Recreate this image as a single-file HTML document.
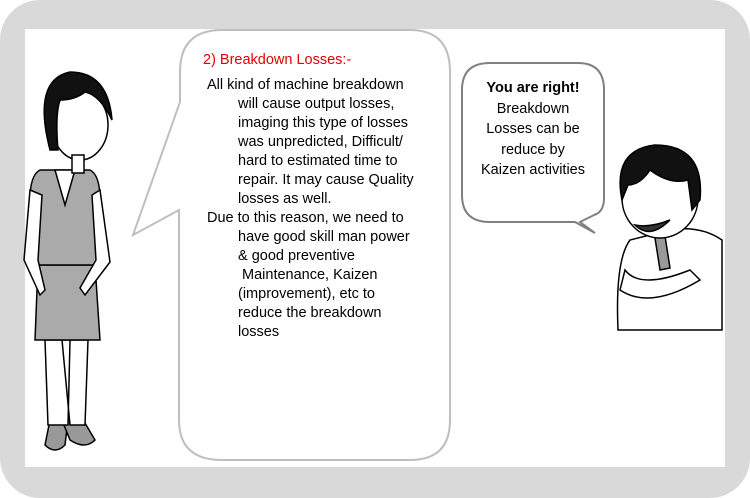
<!DOCTYPE html>
<html><head><style>
body{margin:0;width:750px;height:498px;overflow:hidden;background:#fff;font-family:"Liberation Sans",sans-serif}
.t{position:absolute;font-size:14.5px;line-height:19.1px;color:#000;white-space:nowrap}
</style></head><body>
<svg width="750" height="498" style="position:absolute;left:0;top:0">
<rect x="0" y="0" width="750" height="498" rx="40" fill="#d9d9d9"/>
<rect x="25" y="29" width="700" height="438" fill="#fff"/>
<path d="M180,102 L180,72 Q180,30 222,30 L410,30 Q450,30 450,72 L450,420 Q450,460 410,460 L222,460 Q179,460 179,420 L179,210 L133,235 Z" fill="#fff" stroke="#bfbfbf" stroke-width="2"/>
<path d="M462,90 Q462,63 490,63 L578,63 Q604,63 604,90 L604,198 Q604,212 594,215 L580,222 L595,233 L575,222 L490,222 Q462,222 462,195 Z" fill="#fff" stroke="#808080" stroke-width="2"/>
<g stroke="#000" stroke-width="1.5" fill="#fff">
<path d="M50,420 L45,445 Q55,455 65,445 L68,420 Z" fill="#999"/>
<path d="M62,420 L70,440 Q85,450 95,440 L82,418 Z" fill="#999"/>
<path d="M45,340 L48,425 L68,425 L70,340 Z M62,340 L70,425 L85,425 L88,340 Z"/>
<path d="M38,265 L35,340 L100,340 L95,265 Z" fill="#aaa"/>
<path d="M40,170 Q30,175 30,200 L28,265 L105,265 L100,200 Q100,175 90,170 Z" fill="#aaa"/>
<path d="M55,170 L65,205 L75,170 Z"/>
<path d="M30,190 L24,260 L40,295 L45,290 L38,260 L42,195 Z"/>
<path d="M100,190 L110,262 L85,295 L80,288 L96,260 L92,195 Z"/>
<ellipse cx="80" cy="125" rx="28" ry="35"/>
<path d="M50,150 Q32,80 70,72 Q108,72 112,120 Q100,95 85,92 Q75,100 60,100 Q55,115 58,150 Z" fill="#111"/>
<rect x="72" y="155" width="12" height="18"/>
</g>
<g stroke="#000" stroke-width="1.5" fill="#fff">
<path d="M630,240 Q615,260 618,330 L722,330 L722,240 Q700,225 670,230 Z"/>
<path d="M655,238 L660,270 L670,268 L665,236 Z" fill="#999"/>
<path d="M625,270 Q640,290 690,270 L700,280 Q650,310 620,290 Z"/>
<ellipse cx="660" cy="198" rx="38" ry="40"/>
<path d="M622,200 Q612,150 655,145 Q705,145 700,200 L692,210 L688,180 Q670,185 650,170 Q640,185 628,185 Z" fill="#111"/>
<path d="M635,225 Q650,240 670,220 Q650,228 635,225 Z" fill="#333"/>
</g>
</svg>
<div class="t" style="left:203px;top:51px;color:#e00000">2) Breakdown Losses:-</div>
<div class="t" style="left:207px;top:76px">All kind of machine breakdown</div>
<div class="t" style="left:238px;top:95px">will cause output losses,<br>imaging this type of losses<br>was unpredicted, Difficult/<br>hard to estimated time to<br>repair. It may cause Quality<br>losses as well.</div>
<div class="t" style="left:207px;top:209px">Due to this reason, we need to</div>
<div class="t" style="left:238px;top:228px">have good skill man power<br>&amp; good preventive<br>&nbsp;Maintenance, Kaizen<br>(improvement), etc to<br>reduce the breakdown<br>losses</div>
<div class="t" style="left:462px;top:78px;width:142px;text-align:center;line-height:20.5px"><b>You are right!</b><br>Breakdown<br>Losses can be<br>reduce by<br>Kaizen activities</div>
</body></html>
